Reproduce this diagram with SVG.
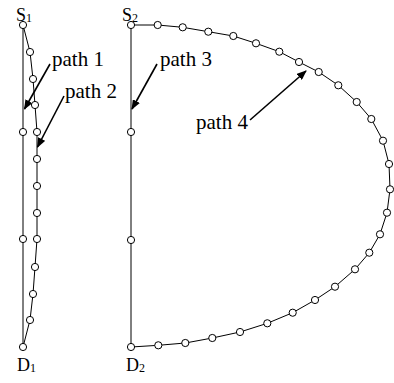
<svg xmlns="http://www.w3.org/2000/svg" width="394" height="383" viewBox="0 0 394 383">
<defs>
<style>
.e{fill:none;stroke:#000;stroke-width:1}
.n{fill:#fff;stroke:#000;stroke-width:1}
.a{fill:none;stroke:#000;stroke-width:1.6}
text{font-family:"Liberation Serif","Times New Roman",serif;fill:#000}
.lb{font-size:21px}
.sd{font-size:18px}
.sub{font-size:12px}
</style>
<marker id="ah" markerWidth="10" markerHeight="8" refX="9" refY="4" orient="auto" markerUnits="userSpaceOnUse">
<path d="M0,0 L10,4 L0,8 Z" fill="#000"/>
</marker>
</defs>
<rect width="394" height="383" fill="#fff"/>
<g id="connectors">
<polyline id="path1" class="e" points="23,25 23,132 23,239 23,347"/>
<polyline id="path2" class="e" points="23,25 30,52 33,79 35,105 37,132 37,159 37,186 37,213 37,239 35,267 33,294 30,320 23,347"/>
<polyline id="path3" class="e" points="131,25 131,132 131,240 131,347"/>
<polyline id="path4" class="e" points="131,25 157.7,25 182.7,27.3 208.3,31.7 233.3,36 256,43.3 279.3,51.7 299,62 318.7,72 338.3,85.3 356.7,102 371.3,119 383,140.7 389,164 390,189.3 387,212.7 380,234.3 369.3,252.7 355,269.3 335,286.7 315,300 292.7,312.7 267.3,323.3 240,332 212.3,338 185.3,343 158.3,345.3 131,347"/>
<line class="a" x1="50" y1="64" x2="24.5" y2="109" marker-end="url(#ah)"/>
<line class="a" x1="64" y1="96" x2="37.5" y2="147" marker-end="url(#ah)"/>
<line class="a" x1="157" y1="64" x2="132" y2="109" marker-end="url(#ah)"/>
<line class="a" x1="250" y1="120" x2="306" y2="71" marker-end="url(#ah)"/>
</g>
<g id="S1"><circle class="n" cx="23" cy="25" r="3.6"/><text class="sd" x="16" y="21">S<tspan class="sub" dy="1">1</tspan></text></g>
<g id="D1"><circle class="n" cx="23" cy="347" r="3.6"/><text class="sd" x="17" y="371">D<tspan class="sub" dy="1">1</tspan></text></g>
<g id="S2"><circle class="n" cx="131" cy="25" r="3.6"/><text class="sd" x="122" y="21">S<tspan class="sub" dy="1">2</tspan></text></g>
<g id="D2"><circle class="n" cx="131" cy="347" r="3.6"/><text class="sd" x="126" y="371">D<tspan class="sub" dy="1">2</tspan></text></g>
<g id="path1-nodes">
<circle class="n" cx="23" cy="132" r="3.6"/><circle class="n" cx="23" cy="239" r="3.6"/>
</g>
<g id="path2-nodes">
<circle class="n" cx="30" cy="52" r="3.6"/><circle class="n" cx="33" cy="79" r="3.6"/><circle class="n" cx="35" cy="105" r="3.6"/><circle class="n" cx="37" cy="132" r="3.6"/><circle class="n" cx="37" cy="159" r="3.6"/><circle class="n" cx="37" cy="186" r="3.6"/><circle class="n" cx="37" cy="213" r="3.6"/><circle class="n" cx="37" cy="239" r="3.6"/><circle class="n" cx="35" cy="267" r="3.6"/><circle class="n" cx="33" cy="294" r="3.6"/><circle class="n" cx="30" cy="320" r="3.6"/>
</g>
<g id="path3-nodes">
<circle class="n" cx="131" cy="132" r="3.6"/><circle class="n" cx="131" cy="240" r="3.6"/>
</g>
<g id="path4-nodes">
<circle class="n" cx="157.7" cy="25" r="3.6"/><circle class="n" cx="182.7" cy="27.3" r="3.6"/><circle class="n" cx="208.3" cy="31.7" r="3.6"/><circle class="n" cx="233.3" cy="36" r="3.6"/><circle class="n" cx="256" cy="43.3" r="3.6"/><circle class="n" cx="279.3" cy="51.7" r="3.6"/><circle class="n" cx="299" cy="62" r="3.6"/><circle class="n" cx="318.7" cy="72" r="3.6"/><circle class="n" cx="338.3" cy="85.3" r="3.6"/><circle class="n" cx="356.7" cy="102" r="3.6"/><circle class="n" cx="371.3" cy="119" r="3.6"/><circle class="n" cx="383" cy="140.7" r="3.6"/><circle class="n" cx="389" cy="164" r="3.6"/><circle class="n" cx="390" cy="189.3" r="3.6"/><circle class="n" cx="387" cy="212.7" r="3.6"/><circle class="n" cx="380" cy="234.3" r="3.6"/><circle class="n" cx="369.3" cy="252.7" r="3.6"/><circle class="n" cx="355" cy="269.3" r="3.6"/><circle class="n" cx="335" cy="286.7" r="3.6"/><circle class="n" cx="315" cy="300" r="3.6"/><circle class="n" cx="292.7" cy="312.7" r="3.6"/><circle class="n" cx="267.3" cy="323.3" r="3.6"/><circle class="n" cx="240" cy="332" r="3.6"/><circle class="n" cx="212.3" cy="338" r="3.6"/><circle class="n" cx="185.3" cy="343" r="3.6"/><circle class="n" cx="158.3" cy="345.3" r="3.6"/>
</g>
<g id="labels">
<text class="lb" x="52" y="66">path 1</text>
<text class="lb" x="65" y="98">path 2</text>
<text class="lb" x="160" y="66">path 3</text>
<text class="lb" x="196" y="129">path 4</text>
</g>
</svg>
